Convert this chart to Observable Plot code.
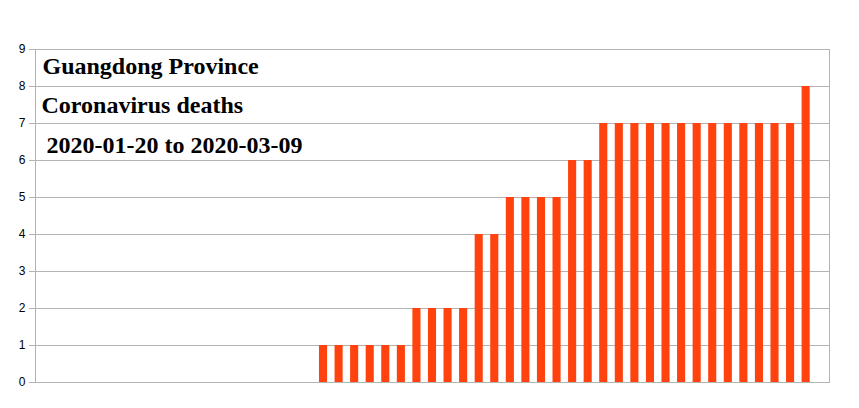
<!DOCTYPE html>
<html>
<head>
<meta charset="utf-8">
<script src="https://cdn.jsdelivr.net/npm/d3@7"></script>
<script src="https://cdn.jsdelivr.net/npm/@observablehq/plot@0.6"></script>
<style>
  html, body { margin: 0; padding: 0; background: #fff; }
</style>
</head>
<body>
<div id="chart"></div>
<script>
const dates = [
  "2020-01-20","2020-01-21","2020-01-22","2020-01-23","2020-01-24","2020-01-25","2020-01-26","2020-01-27","2020-01-28","2020-01-29",
  "2020-01-30","2020-01-31","2020-02-01","2020-02-02","2020-02-03","2020-02-04","2020-02-05","2020-02-06","2020-02-07","2020-02-08",
  "2020-02-09","2020-02-10","2020-02-11","2020-02-12","2020-02-13","2020-02-14","2020-02-15","2020-02-16","2020-02-17","2020-02-18",
  "2020-02-19","2020-02-20","2020-02-21","2020-02-22","2020-02-23","2020-02-24","2020-02-25","2020-02-26","2020-02-27","2020-02-28",
  "2020-02-29","2020-03-01","2020-03-02","2020-03-03","2020-03-04","2020-03-05","2020-03-06","2020-03-07","2020-03-08","2020-03-09",
  "2020-03-10"
];
const deaths = [
  0,0,0,0,0,0,0,0,0,0,
  0,0,0,0,0,0,0,0,1,1,
  1,1,1,1,2,2,2,2,4,4,
  5,5,5,5,6,6,7,7,7,7,
  7,7,7,7,7,7,7,7,7,8,
  null
];
const yTicks = [0,1,2,3,4,5,6,7,8,9];
const titleLines = ["Guangdong Province", "Coronavirus deaths", "2020-01-20 to 2020-03-09"];

const data = dates.map((d, i) => ({date: d, deaths: deaths[i]}));
const grey = "#b3b3b3";
const titleFont = "'Liberation Serif', 'DejaVu Serif', serif";
const titleSize = 24;

const chart = Plot.plot({
  width: 859,
  height: 408,
  marginLeft: 35,
  marginRight: 30,
  marginTop: 49,
  marginBottom: 26,
  style: {fontFamily: "'Liberation Sans', Arial, sans-serif", fontSize: "12px", color: "#000", background: "#fff"},
  x: {type: "band", domain: dates, paddingInner: 0.48, paddingOuter: 0.24, round: false, axis: null},
  y: {domain: [0, 9], ticks: yTicks, label: null},
  marks: [
    Plot.gridY(yTicks, {stroke: grey, strokeOpacity: 1}),
    Plot.frame({stroke: grey, strokeOpacity: 1}),
    Plot.axisY(yTicks, {stroke: grey, strokeOpacity: 1, tickSize: 6, tickPadding: 4, fill: "#000", fontSize: 12, label: null}),
    Plot.barY(data.filter(d => d.deaths != null && d.deaths > 0), {x: "date", y: "deaths", fill: "#ff420e"}),
    Plot.text([titleLines[0]], {text: d => d, frameAnchor: "top-left", textAnchor: "start", lineAnchor: "bottom", dx: 7, dy: 24, fontFamily: titleFont, fontWeight: "bold", fontSize: titleSize, fill: "#000"}),
    Plot.text([titleLines[1]], {text: d => d, frameAnchor: "top-left", textAnchor: "start", lineAnchor: "bottom", dx: 6, dy: 63, fontFamily: titleFont, fontWeight: "bold", fontSize: titleSize, fill: "#000"}),
    Plot.text([titleLines[2]], {text: d => d, frameAnchor: "top-left", textAnchor: "start", lineAnchor: "bottom", dx: 11, dy: 103, fontFamily: titleFont, fontWeight: "bold", fontSize: titleSize, fill: "#000"})
  ]
});
document.getElementById("chart").appendChild(chart);
</script>
</body>
</html>
